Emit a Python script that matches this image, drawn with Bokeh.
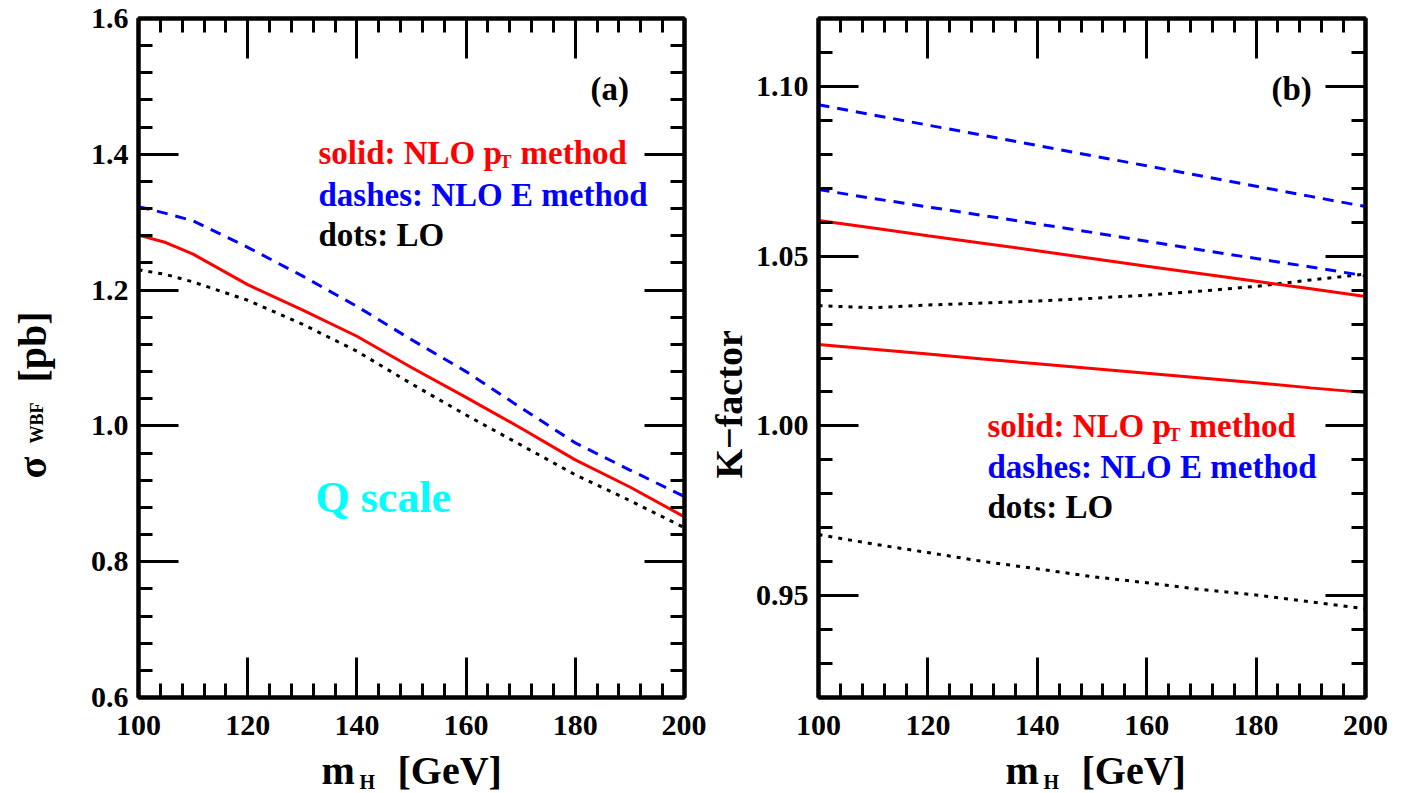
from bokeh.plotting import figure
from bokeh.layouts import row, column
from bokeh.models import FixedTicker, LinearAxis, Label, Range1d
from bokeh.embed import file_html
from bokeh.resources import INLINE
import math

# ---------------- data ----------------
mh = [100, 105, 110, 120, 130, 140, 150, 160, 170, 180, 190, 200]
sigma_nlo_pt = [1.281, 1.270, 1.253, 1.208, 1.171, 1.132, 1.086, 1.042, 0.997, 0.950, 0.910, 0.866]
sigma_nlo_e = [1.323, 1.313, 1.302, 1.263, 1.221, 1.176, 1.127, 1.080, 1.027, 0.975, 0.935, 0.896]
sigma_lo = [1.230, 1.223, 1.212, 1.185, 1.150, 1.110, 1.062, 1.016, 0.972, 0.928, 0.890, 0.850]

mh_k = [100, 110, 120, 130, 140, 150, 160, 170, 180, 190, 200]
k_pt_hi = [1.0605, 1.0583, 1.0560, 1.0538, 1.0516, 1.0493, 1.0470, 1.0448, 1.0426, 1.0404, 1.0381]
k_pt_lo = [1.0240, 1.0226, 1.0212, 1.0197, 1.0183, 1.0169, 1.0155, 1.0141, 1.0127, 1.0112, 1.0098]
k_e_hi = [1.0946, 1.0916, 1.0886, 1.0856, 1.0826, 1.0796, 1.0766, 1.0736, 1.0706, 1.0676, 1.0646]
k_e_lo = [1.0696, 1.0670, 1.0645, 1.0620, 1.0595, 1.0570, 1.0544, 1.0518, 1.0493, 1.0468, 1.0442]
k_lo_hi = [1.0354, 1.0348, 1.0356, 1.0362, 1.0368, 1.0376, 1.0385, 1.0397, 1.0411, 1.0430, 1.0447]
k_lo_lo = [0.9680, 0.9652, 0.9627, 0.9601, 0.9579, 0.9556, 0.9538, 0.9518, 0.9502, 0.9482, 0.9461]

x_ticks = [100, 120, 140, 160, 180, 200]
x_tick_labels = ["100", "120", "140", "160", "180", "200"]
x_minor = [104, 108, 112, 116, 124, 128, 132, 136, 144, 148, 152, 156,
           164, 168, 172, 176, 184, 188, 192, 196]
sig_ticks = [0.6, 0.8, 1.0, 1.2, 1.4, 1.6]
sig_tick_labels = ["0.6", "0.8", "1.0", "1.2", "1.4", "1.6"]
sig_minor = [0.64, 0.68, 0.72, 0.76, 0.84, 0.88, 0.92, 0.96, 1.04, 1.08, 1.12, 1.16,
             1.24, 1.28, 1.32, 1.36, 1.44, 1.48, 1.52, 1.56]
k_ticks = [0.95, 1.00, 1.05, 1.10]
k_tick_labels = ["0.95", "1.00", "1.05", "1.10"]
k_minor = [0.93, 0.94, 0.96, 0.97, 0.98, 0.99, 1.01, 1.02, 1.03, 1.04,
           1.06, 1.07, 1.08, 1.09, 1.11]

FONT = "Liberation Serif"
RED, BLUE, CYAN = "#ff0000", "#0000ff", "#00ffff"

# page geometry (pixels)
PAGE_W, PAGE_H = 1403, 793
L_X0, L_X1 = 138, 684          # left frame
R_X0, R_X1 = 818, 1365         # right frame
Y0, Y1 = 18, 697               # frame top / bottom
BOT = 50                       # space for x tick labels
P_H = Y1 + BOT                 # plot figure height
XL_H = PAGE_H - P_H            # x-title strip height
YL1_W = 80                     # left y-title strip
P1_X0, P1_X1 = YL1_W, 706
P2_X0 = 750


def style_axis(ax, ticks, minor, labels):
    ax.ticker = FixedTicker(ticks=ticks, minor_ticks=minor)
    ax.major_tick_in = 40
    ax.major_tick_out = 0
    ax.minor_tick_in = 14
    ax.minor_tick_out = 0
    ax.major_tick_line_width = 3
    ax.minor_tick_line_width = 3
    ax.axis_line_width = 4
    ax.major_tick_line_color = "black"
    ax.minor_tick_line_color = "black"
    ax.axis_line_color = "black"
    if labels is None:
        ax.major_label_overrides = {t: "" for t in ticks}
        ax.major_label_text_font_size = "1px"
        ax.major_label_standoff = 0
    else:
        ax.major_label_overrides = dict(zip(ticks, labels))
        ax.major_label_text_font = FONT
        ax.major_label_text_font_style = "bold"
        ax.major_label_text_font_size = "30px"
        ax.major_label_text_color = "black"


def make_fig(x0, x1, fx0, fx1, yr, yt, ym, ylab):
    p = figure(width=x1 - x0, height=P_H, x_range=Range1d(100, 200), y_range=Range1d(*yr),
               output_backend="svg", toolbar_location=None,
               min_border_left=fx0 - x0, min_border_right=x1 - fx1, min_border_top=Y0,
               min_border_bottom=BOT)
    p.frame_align = False
    p.grid.grid_line_color = None
    p.outline_line_color = "black"
    p.outline_line_width = 4
    p.background_fill_color = "white"
    p.border_fill_color = "white"
    style_axis(p.xaxis[0], x_ticks, x_minor, x_tick_labels)
    p.xaxis[0].major_label_standoff = 18
    style_axis(p.yaxis[0], yt, ym, ylab)
    p.yaxis[0].major_label_standoff = 10
    top = LinearAxis()
    right = LinearAxis()
    style_axis(top, x_ticks, x_minor, None)
    style_axis(right, yt, ym, None)
    p.add_layout(top, "above")
    p.add_layout(right, "right")
    return p


def text_fig(ox, oy, w, h):
    """A bare strip whose data coordinates are page pixels (y negated)."""
    f = figure(width=w, height=h, x_range=Range1d(ox, ox + w), y_range=Range1d(-(oy + h), -oy),
               output_backend="svg", toolbar_location=None, min_border=0,
               min_border_left=0, min_border_right=0, min_border_top=0, min_border_bottom=0,
               x_axis_location=None, y_axis_location=None)
    f.frame_align = False
    f.grid.grid_line_color = None
    f.outline_line_color = None
    f.background_fill_color = "white"
    f.border_fill_color = "white"
    return f


def txt(p, fx, fy, px, py, text, color="black", size=32, angle=0.0):
    # shift the anchor "up" in the text's own frame so the glyph baseline lands on py (or px)
    off = 0.2 * size + 5
    if angle:
        px = px - off
    else:
        py = py - off
    p.add_layout(Label(x=fx(px), y=fy(py), text=text, text_color=color,
                       text_font=FONT, text_font_style="bold",
                       text_font_size=f"{size}px", text_align="left",
                       text_baseline="alphabetic", angle=angle))


p1 = make_fig(P1_X0, P1_X1, L_X0, L_X1, (0.6, 1.6), sig_ticks, sig_minor, sig_tick_labels)
p2 = make_fig(P2_X0, PAGE_W, R_X0, R_X1, (0.92, 1.12), k_ticks, k_minor, k_tick_labels)

p1.line(mh, sigma_lo, line_color="black", line_width=3, line_dash="4 6")
p1.line(mh, sigma_nlo_e, line_color=BLUE, line_width=3, line_dash="11 8")
p1.line(mh, sigma_nlo_pt, line_color=RED, line_width=3)

p2.line(mh_k, k_lo_hi, line_color="black", line_width=3, line_dash="4 6")
p2.line(mh_k, k_lo_lo, line_color="black", line_width=3, line_dash="4 6")
p2.line(mh_k, k_e_hi, line_color=BLUE, line_width=3, line_dash="11 8")
p2.line(mh_k, k_e_lo, line_color=BLUE, line_width=3, line_dash="11 8")
p2.line(mh_k, k_pt_hi, line_color=RED, line_width=3)
p2.line(mh_k, k_pt_lo, line_color=RED, line_width=3)


def lx(px):
    return 100 + (px - L_X0) / (L_X1 - L_X0) * 100


def ly(py):
    return 1.6 - (py - Y0) / (Y1 - Y0) * 1.0


def rx(px):
    return 100 + (px - R_X0) / (R_X1 - R_X0) * 100


def ry(py):
    return 1.12 - (py - Y0) / (Y1 - Y0) * 0.2


def page_x(px):
    return px


def page_y(py):
    return -py


def legend(p, fx, fy, x0, yb):
    txt(p, fx, fy, x0, yb[0], "solid: NLO p", RED, 33)
    txt(p, fx, fy, x0 + 181, yb[0] + 6, "T", RED, 18)
    txt(p, fx, fy, x0 + 202, yb[0], "method", RED, 33)
    txt(p, fx, fy, x0, yb[1], "dashes: NLO E method", BLUE, 33)
    txt(p, fx, fy, x0, yb[2], "dots: LO", "black", 33)


def xlabel(f, x0):
    txt(f, page_x, page_y, x0, 783, "m", "black", 40)
    txt(f, page_x, page_y, x0 + 38, 790, "H", "black", 20)
    txt(f, page_x, page_y, x0 + 76, 783, "[GeV]", "black", 40)


# left panel texts inside the frame
legend(p1, lx, ly, 318, [164, 206, 246])
txt(p1, lx, ly, 590, 100, "(a)", "black", 33)
txt(p1, lx, ly, 315, 511, "Q scale", CYAN, 44)

# right panel texts inside the frame
legend(p2, rx, ry, 987, [437, 478, 518])
txt(p2, rx, ry, 1271, 100, "(b)", "black", 33)

# axis titles in their own strips
ylab1 = text_fig(0, 0, YL1_W, PAGE_H)
txt(ylab1, page_x, page_y, 45, 478, "σ", "black", 40, math.pi / 2)
txt(ylab1, page_x, page_y, 45, 443, "WBF", "black", 18, math.pi / 2)
txt(ylab1, page_x, page_y, 45, 382, "[pb]", "black", 40, math.pi / 2)

xlab1 = text_fig(P1_X0, P_H, P1_X1 - P1_X0, XL_H)
xlabel(xlab1, 321)

ylab2 = text_fig(P1_X1, 0, P2_X0 - P1_X1, PAGE_H)
txt(ylab2, page_x, page_y, 741, 478, "K−factor", "black", 38, math.pi / 2)

xlab2 = text_fig(P2_X0, P_H, PAGE_W - P2_X0, XL_H)
xlabel(xlab2, 1005)

layout = row(ylab1, column(p1, xlab1), ylab2, column(p2, xlab2))
open("out.html", "w").write(file_html(layout, INLINE))
